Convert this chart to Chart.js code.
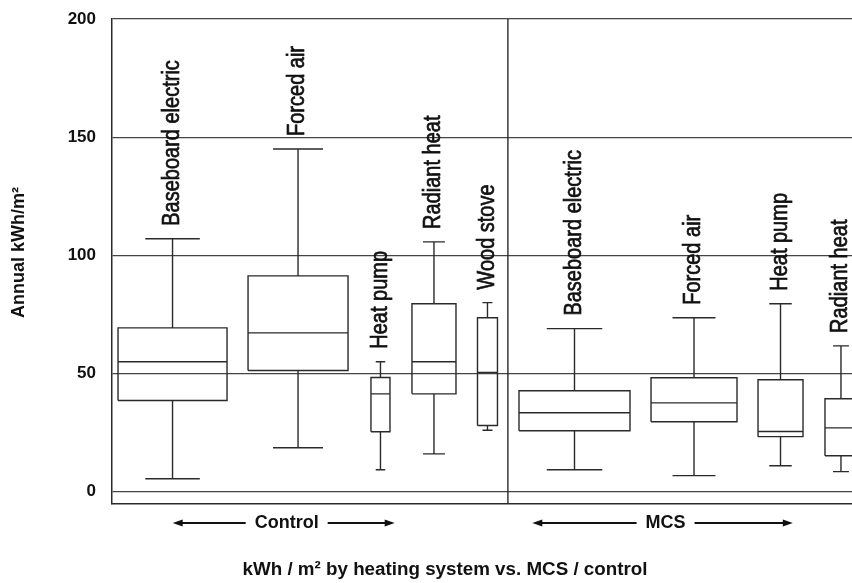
<!DOCTYPE html>
<html>
<head>
<meta charset="utf-8">
<title>Annual kWh/m² by heating system</title>
<script src="https://cdn.jsdelivr.net/npm/chart.js@4.4.1/dist/chart.umd.min.js"></script>
<style>
  html, body { margin: 0; padding: 0; background: #ffffff; }
  canvas { display: block; }
</style>
</head>
<body>
<canvas id="chart" width="852" height="583"></canvas>
<script>
// Heating systems in plotting order (five control homes, then four MCS homes)
const systems = ['Baseboard electric', 'Forced air', 'Heat pump', 'Radiant heat', 'Wood stove',
                 'Baseboard electric', 'Forced air', 'Heat pump', 'Radiant heat'];
const groupOf = ['Control', 'Control', 'Control', 'Control', 'Control', 'MCS', 'MCS', 'MCS', 'MCS'];
const groupNames = ['Control', 'MCS'];

// Five-number summaries, annual kWh/m²
const whiskerLow    = [5.5, 18.6,  9.3,  16.0, 26.0,  9.3,  6.8, 11.0,  8.5];
const lowerQuartile = [38.6, 51.3, 25.4, 41.4, 28.0, 25.8, 29.6, 23.3, 15.2];
const medians       = [55.0, 67.2, 41.4, 55.0, 50.5, 33.4, 37.6, 25.5, 27.0];
const upperQuartile = [69.3, 91.3, 48.3, 79.5, 73.6, 42.7, 48.2, 47.4, 39.3];
const whiskerHigh   = [107.0, 145.0, 55.0, 105.7, 80.0, 69.0, 73.6, 79.5, 61.7];

const yTicks = [0, 50, 100, 150, 200];

// Box placement along the horizontal axis (axis units, 0-100); widths vary with group size
const boxAt    = [8.18, 25.14, 36.28, 43.51, 50.74, 62.50, 78.65, 90.34, 98.51];
const boxWidth = [14.73, 13.51, 2.57, 5.95, 2.70, 15.00, 11.62, 6.08, 4.32];
const dividerAt = 53.5;
const groupSpan = { Control: [8.2, 38.2], MCS: [56.8, 92.0] };

const INK = '#2a2a2a';
const FONT = '"Liberation Sans", Arial, Helvetica, sans-serif';

// One line dataset per box: outline, median, whiskers and staples, broken by gaps
const datasets = systems.map((name, i) => {
  const c = boxAt[i];
  const L = c - boxWidth[i] / 2;
  const R = c + boxWidth[i] / 2;
  const s = boxWidth[i] / 4;
  const gap = { x: c, y: null };
  return {
    label: groupOf[i] + ' - ' + name,
    data: [
      { x: L, y: lowerQuartile[i] }, { x: L, y: upperQuartile[i] },
      { x: R, y: upperQuartile[i] }, { x: R, y: lowerQuartile[i] },
      { x: L, y: lowerQuartile[i] }, gap,
      { x: L, y: medians[i] }, { x: R, y: medians[i] }, gap,
      { x: c, y: upperQuartile[i] }, { x: c, y: whiskerHigh[i] }, gap,
      { x: c - s, y: whiskerHigh[i] }, { x: c + s, y: whiskerHigh[i] }, gap,
      { x: c, y: lowerQuartile[i] }, { x: c, y: whiskerLow[i] }, gap,
      { x: c - s, y: whiskerLow[i] }, { x: c + s, y: whiskerLow[i] }
    ],
    showLine: true,
    spanGaps: false,
    borderColor: INK,
    borderWidth: 1.4,
    borderJoinStyle: 'miter',
    pointRadius: 0,
    pointHoverRadius: 0,
    fill: false
  };
});

// Vertical rule separating the control and MCS groups
datasets.push({
  label: 'divider',
  data: [{ x: dividerAt, y: -5.2 }, { x: dividerAt, y: 200 }],
  showLine: true,
  borderColor: INK,
  borderWidth: 1.4,
  pointRadius: 0,
  fill: false
});

function arrowHead(ctx, x, y, dir) {
  ctx.beginPath();
  ctx.moveTo(x, y);
  ctx.lineTo(x - dir * 10, y - 3.5);
  ctx.lineTo(x - dir * 10, y + 3.5);
  ctx.closePath();
  ctx.fill();
}

const annotations = {
  id: 'annotations',
  afterDatasetsDraw(chart) {
    const { ctx, chartArea: a, scales: { x, y } } = chart;
    ctx.save();
    ctx.fillStyle = '#111111';
    ctx.strokeStyle = '#111111';

    // System names, set vertically above each upper whisker
    ctx.font = '20px ' + FONT;
    ctx.textAlign = 'left';
    ctx.textBaseline = 'middle';
    ctx.lineWidth = 0.6;
    systems.forEach((name, i) => {
      ctx.save();
      ctx.translate(x.getPixelForValue(boxAt[i]), y.getPixelForValue(whiskerHigh[i]) - 13);
      ctx.rotate(-Math.PI / 2);
      ctx.scale(1, 1.15);
      ctx.fillText(name, 0, 0);
      ctx.strokeText(name, 0, 0);
      ctx.restore();
    });

    // Group captions with arrows under the axis
    ctx.font = 'bold 18px ' + FONT;
    ctx.textAlign = 'center';
    ctx.lineWidth = 2;
    const ay = a.bottom + 19;
    groupNames.forEach(g => {
      const xs = x.getPixelForValue(groupSpan[g][0]);
      const xe = x.getPixelForValue(groupSpan[g][1]);
      const xc = (xs + xe) / 2 + 3;
      const half = ctx.measureText(g).width / 2;
      ctx.fillText(g, xc, ay);
      ctx.beginPath();
      ctx.moveTo(xs + 4, ay);
      ctx.lineTo(xc - half - 9, ay);
      ctx.moveTo(xc + half + 9, ay);
      ctx.lineTo(xe - 4, ay);
      ctx.stroke();
      arrowHead(ctx, xs, ay, -1);
      arrowHead(ctx, xe, ay, 1);
    });

    // Axis titles
    ctx.font = 'bold 18.8px ' + FONT;
    ctx.textBaseline = 'alphabetic';
    ctx.fillText('kWh / m\u00B2 by heating system vs. MCS / control', 445, 575);

    ctx.font = 'bold 18px ' + FONT;
    ctx.textBaseline = 'middle';
    ctx.save();
    ctx.translate(19, (a.top + a.bottom) / 2 - 9);
    ctx.rotate(-Math.PI / 2);
    ctx.fillText('Annual kWh/m\u00B2', 0, 0);
    ctx.restore();

    ctx.restore();
  }
};

new Chart(document.getElementById('chart'), {
  type: 'scatter',
  data: { datasets },
  options: {
    responsive: false,
    animation: false,
    devicePixelRatio: 1,
    layout: { padding: { top: 19, bottom: 79, left: 0, right: 0 } },
    plugins: {
      legend: { display: false },
      tooltip: { enabled: false }
    },
    scales: {
      x: {
        type: 'linear',
        min: 0,
        max: 100,
        grid: { display: false },
        ticks: { display: false },
        border: { display: true, color: INK, width: 1.5 },
        afterFit(scale) { scale.height = 0; scale.paddingLeft = 0; scale.paddingRight = 0; }
      },
      y: {
        type: 'linear',
        min: -5.2,
        max: 200,
        afterBuildTicks(scale) { scale.ticks = yTicks.map(v => ({ value: v })); },
        afterFit(scale) { scale.width = 112; scale.paddingTop = 0; scale.paddingBottom = 0; },
        ticks: {
          font: { family: FONT, size: 17, weight: 'bold' },
          color: '#111111',
          padding: 16
        },
        grid: { color: '#444444', lineWidth: 1.3, drawTicks: false },
        border: { color: INK, width: 1.5 }
      }
    }
  },
  plugins: [annotations]
});
</script>
</body>
</html>
